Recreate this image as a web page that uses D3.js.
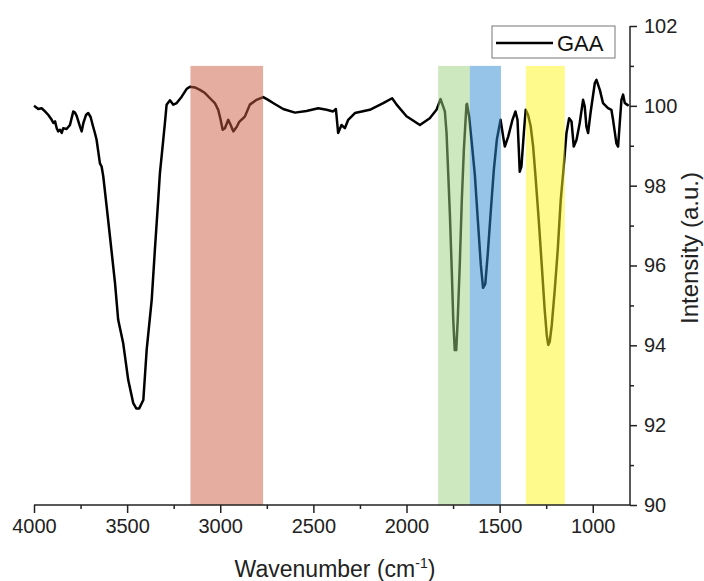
<!DOCTYPE html>
<html>
<head>
<meta charset="utf-8">
<script src="https://cdn.jsdelivr.net/npm/d3@7"></script>
<style>
  html, body { margin: 0; padding: 0; background: #fff; }
  svg { display: block; font-family: "Liberation Sans", Arial, sans-serif; }
</style>
</head>
<body>
<svg id="chart" width="704" height="581"></svg>
<script>
// FTIR spectrum of GAA: wavenumber (cm-1) and transmittance intensity (a.u.)
const wavenumbers = [
  4000, 3977, 3959, 3941, 3923, 3905, 3896, 3887, 3878, 3870, 3860, 3851, 3843, 3825, 3807,
  3789, 3780, 3771, 3753, 3744, 3735, 3721, 3709, 3696, 3685, 3673, 3664, 3646, 3637, 3628,
  3610, 3592, 3565, 3548, 3521, 3494, 3467, 3451, 3435, 3413, 3395, 3368, 3351, 3333, 3324,
  3306, 3297, 3288, 3270, 3252, 3234, 3207, 3181, 3163, 3136, 3109, 3082, 3055, 3029, 3011,
  2998, 2987, 2975, 2957, 2944, 2930, 2912, 2898, 2868, 2841, 2805, 2769, 2743, 2716, 2662,
  2599, 2537, 2474, 2429, 2394, 2379, 2372, 2367, 2349, 2331, 2313, 2277, 2197, 2125, 2077,
  2053, 2000, 1928, 1875, 1839, 1817, 1794, 1785, 1776, 1767, 1757, 1749, 1741, 1733, 1725,
  1714, 1703, 1692, 1678, 1675, 1664, 1651, 1633, 1617, 1601, 1589, 1577, 1564, 1547, 1531,
  1515, 1495, 1481, 1472, 1454, 1431, 1415, 1404, 1397, 1392, 1383, 1370, 1360, 1347, 1333,
  1320, 1306, 1290, 1274, 1258, 1247, 1239, 1231, 1220, 1204, 1188, 1172, 1159, 1141, 1127,
  1114, 1102, 1087, 1070, 1052, 1043, 1034, 1025, 1012, 989, 980, 962, 945, 918, 900,
  891, 873, 864, 855, 846, 837, 828, 816, 807
];
const intensities = [
  100.00, 99.92, 99.94, 99.86, 99.77, 99.65, 99.57, 99.61, 99.44, 99.36, 99.40, 99.32, 99.44, 99.42, 99.52,
  99.86, 99.83, 99.75, 99.48, 99.36, 99.57, 99.77, 99.82, 99.72, 99.52, 99.32, 99.15, 98.56, 98.48, 98.23,
  97.48, 96.72, 95.56, 94.64, 94.05, 93.13, 92.55, 92.42, 92.42, 92.63, 93.89, 95.14, 96.39, 97.65, 98.31,
  99.15, 99.57, 100.03, 100.14, 100.03, 100.07, 100.23, 100.42, 100.48, 100.46, 100.40, 100.32, 100.19, 100.07, 99.90,
  99.65, 99.40, 99.44, 99.65, 99.52, 99.36, 99.47, 99.60, 99.73, 100.03, 100.15, 100.22, 100.15, 100.07, 99.92,
  99.83, 99.87, 99.94, 99.90, 99.86, 99.92, 99.57, 99.32, 99.52, 99.44, 99.65, 99.82, 99.90, 100.07, 100.19,
  100.03, 99.74, 99.52, 99.69, 99.90, 100.17, 99.86, 99.32, 98.31, 97.27, 95.89, 94.64, 93.88, 93.88, 94.64,
  96.02, 97.64, 98.90, 100.03, 100.05, 99.74, 99.15, 98.27, 97.14, 96.02, 95.44, 95.54, 96.27, 97.39, 98.40,
  99.15, 99.65, 99.23, 98.98, 99.23, 99.65, 99.86, 99.65, 98.90, 98.35, 98.48, 99.32, 99.90, 99.77, 99.48,
  98.98, 98.15, 97.14, 96.02, 94.89, 94.26, 94.01, 94.09, 94.51, 95.39, 96.39, 97.64, 98.31, 99.32, 99.69,
  99.61, 98.98, 99.15, 99.57, 100.15, 99.98, 99.48, 99.32, 99.82, 100.57, 100.65, 100.40, 100.07, 99.94, 99.90,
  99.65, 99.06, 98.98, 99.57, 100.15, 100.28, 100.07, 100.03, 100.00
];

// Highlighted absorption regions [from, to] in cm-1
const bandStarts = [3160, 1830, 1660, 1359];
const bandEnds   = [2770, 1660, 1493, 1150];
const bandColors = ["rgb(203,89,65)", "rgb(155,209,125)", "rgb(45,135,209)", "rgb(255,245,25)"];

const xMajorTicks = [4000, 3500, 3000, 2500, 2000, 1500, 1000];
const xMinorTicks = [3750, 3250, 2750, 2250, 1750, 1250];
const yMajorTicks = [90, 92, 94, 96, 98, 100, 102];
const yMinorTicks = [91, 93, 95, 97, 99, 101];

const seriesName = "GAA";
const xTitle = "Wavenumber (cm";
const xTitleSup = "-1";
const yTitle = "Intensity (a.u.)";

const svg = d3.select("#chart");
const plotLeft = 34, plotRight = 630, plotTop = 26, plotBottom = 505;

const x = d3.scaleLinear().domain([4000, 800]).range([plotLeft, plotRight]);
const y = d3.scaleLinear().domain([90, 102]).range([plotBottom, plotTop]);

// spectrum line
const data = wavenumbers.map((w, i) => ({ w, v: intensities[i] }));
svg.append("path")
  .datum(data)
  .attr("fill", "none")
  .attr("stroke", "#000")
  .attr("stroke-width", 2.5)
  .attr("stroke-linejoin", "round")
  .attr("d", d3.line().x(d => x(d.w)).y(d => y(d.v)));

// translucent highlight bands laid over the line
svg.append("g").selectAll("rect")
  .data(bandStarts.map((s, i) => ({ s, e: bandEnds[i], c: bandColors[i] })))
  .join("rect")
  .attr("x", d => x(d.s))
  .attr("width", d => x(d.e) - x(d.s))
  .attr("y", y(101))
  .attr("height", y(90) - y(101))
  .attr("fill", d => d.c)
  .attr("fill-opacity", 0.5);

// bottom axis
const xAxis = svg.append("g").attr("transform", `translate(0,${plotBottom})`)
  .call(d3.axisBottom(x).tickValues(xMajorTicks).tickSize(8).tickPadding(6).tickFormat(d3.format("d")));
xAxis.select(".domain").attr("d", `M${plotLeft},0H${plotRight}`);
svg.append("g").attr("transform", `translate(0,${plotBottom})`)
  .call(d3.axisBottom(x).tickValues(xMinorTicks).tickSize(4).tickFormat(""))
  .select(".domain").remove();

// right axis
const yAxis = svg.append("g").attr("transform", `translate(${plotRight},0)`)
  .call(d3.axisRight(y).tickValues(yMajorTicks).tickSize(7).tickPadding(7));
yAxis.select(".domain").attr("d", `M0,${plotTop}V${plotBottom}`);
svg.append("g").attr("transform", `translate(${plotRight},0)`)
  .call(d3.axisRight(y).tickValues(yMinorTicks).tickSize(4).tickFormat(""))
  .select(".domain").remove();

svg.selectAll(".tick line, .domain").attr("stroke", "#222").attr("stroke-width", 1.5);
svg.selectAll(".tick text")
  .attr("fill", "#222")
  .style("font-size", "20px")
  .style("font-family", "'Liberation Sans', Arial, sans-serif");

// axis titles
const xt = svg.append("text")
  .attr("x", (plotLeft + plotRight) / 2 + 3)
  .attr("y", 577)
  .attr("text-anchor", "middle")
  .attr("fill", "#222")
  .style("font-size", "23px");
xt.append("tspan").text(xTitle);
xt.append("tspan").attr("dy", -9).style("font-size", "14px").text(xTitleSup);
xt.append("tspan").attr("dy", 9).text(")");

svg.append("text")
  .attr("transform", `translate(698,248) rotate(-90)`)
  .attr("text-anchor", "middle")
  .attr("fill", "#222")
  .style("font-size", "24px")
  .text(yTitle);

// legend
const lg = svg.append("g");
lg.append("rect")
  .attr("x", 492).attr("y", 26).attr("width", 123).attr("height", 32)
  .attr("fill", "#fff").attr("stroke", "#777").attr("stroke-width", 1);
lg.append("line")
  .attr("x1", 496).attr("x2", 553).attr("y1", 43).attr("y2", 43)
  .attr("stroke", "#000").attr("stroke-width", 2.5);
lg.append("text")
  .attr("x", 557).attr("y", 51)
  .attr("fill", "#111")
  .style("font-size", "22px")
  .text(seriesName);
</script>
</body>
</html>
